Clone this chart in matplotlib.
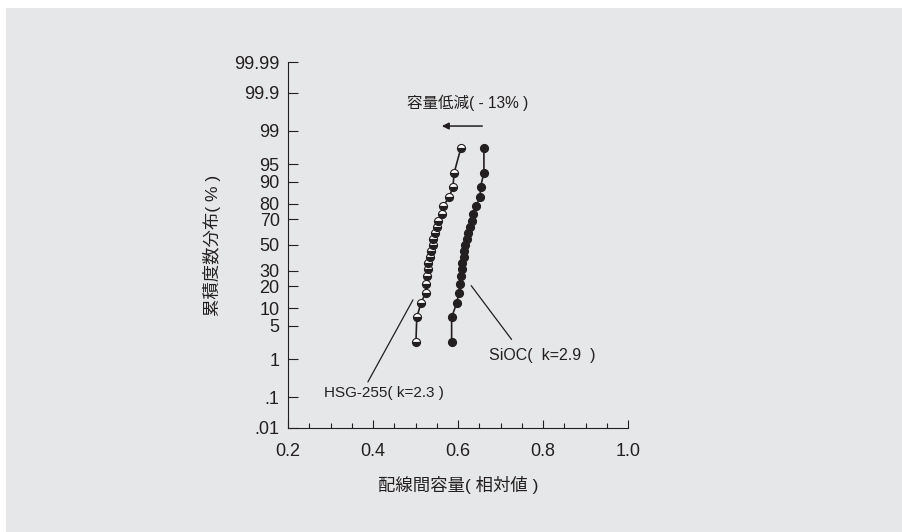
import numpy as np
import matplotlib
matplotlib.use("Agg")
import matplotlib.pyplot as plt
from matplotlib.patches import Rectangle
from statistics import NormalDist

plt.rcParams['font.family'] = ['Liberation Sans', 'Noto Sans CJK JP', 'DejaVu Sans']

# cumulative frequency (%) - same plotting positions for both samples
cum_pct = [2.4, 7.1, 11.9, 16.7, 21.4, 26.2, 31.0, 35.7, 40.5, 45.2, 50.0,
           54.8, 59.5, 64.3, 69.0, 73.8, 78.6, 83.3, 88.1, 92.9, 97.6]

# relative line-to-line capacitance
hsg_cap = [0.501, 0.503, 0.513, 0.524, 0.524, 0.526, 0.529, 0.530, 0.534, 0.536, 0.540,
           0.542, 0.546, 0.551, 0.554, 0.562, 0.565, 0.579, 0.588, 0.591, 0.607]
sioc_cap = [0.585, 0.585, 0.597, 0.602, 0.605, 0.607, 0.609, 0.610, 0.613, 0.615, 0.616,
            0.620, 0.624, 0.628, 0.632, 0.636, 0.642, 0.652, 0.653, 0.661, 0.661]

y_ticks = [0.01, 0.1, 1, 5, 10, 20, 30, 50, 70, 80, 90, 95, 99, 99.9, 99.99]
y_ticklabels = ['.01', '.1', '1', '5', '10', '20', '30', '50', '70', '80', '90',
                '95', '99', '99.9', '99.99']
x_ticks = [0.2, 0.4, 0.6, 0.8, 1.0]

ink = '#231f20'
bg = '#e6e7e8'

nd = NormalDist()
_ppf = np.vectorize(lambda p: nd.inv_cdf(p), otypes=[float])
_cdf = np.vectorize(lambda z: nd.cdf(z), otypes=[float])


def prob_fwd(p):
    p = np.clip(np.asarray(p, dtype=float) / 100.0, 1e-7, 1 - 1e-7)
    return _ppf(p)


def prob_inv(z):
    return _cdf(np.asarray(z, dtype=float)) * 100.0


fig = plt.figure(figsize=(9.02, 5.32), dpi=100, facecolor='white')
fig.add_artist(Rectangle((6 / 902, 0), 1, 1 - 8 / 532, transform=fig.transFigure,
                         facecolor=bg, edgecolor='none', zorder=-10))

ax = fig.add_axes([288 / 902, 1 - 428 / 532, 340 / 902, 366 / 532])
ax.set_facecolor('none')
ax.set_yscale('function', functions=(prob_fwd, prob_inv))
ax.set_xlim(0.2, 1.0)
ax.set_ylim(0.01, 99.99)

ax.plot(hsg_cap, cum_pct, color=ink, lw=1.2, marker='o', ms=5.8,
        mfc='white', mfcalt=ink, fillstyle='top', mec=ink, mew=0.8, zorder=3)
ax.plot(sioc_cap, cum_pct, color=ink, lw=1.2, marker='o', ms=5.8,
        mfc=ink, mec=ink, mew=0.8, zorder=3)

for s in ['top', 'right']:
    ax.spines[s].set_visible(False)
for s in ['left', 'bottom']:
    ax.spines[s].set_linewidth(0.8)
    ax.spines[s].set_color(ink)

ax.set_yticks(y_ticks)
ax.set_yticklabels(y_ticklabels)
ax.yaxis.set_minor_locator(matplotlib.ticker.NullLocator())
ax.set_xticks(x_ticks)
ax.set_xticklabels(['%.1f' % v for v in x_ticks])
ax.set_xticks(np.arange(0.25, 1.0, 0.05), minor=True)
ax.tick_params(axis='both', which='major', direction='in', width=0.8,
               colors=ink, labelsize=13)
ax.tick_params(axis='y', which='major', length=7, pad=6)
ax.tick_params(axis='x', which='major', length=6, pad=11)
ax.tick_params(axis='x', which='minor', direction='in', length=3.5, width=0.8, colors=ink)

ax.set_xlabel('配線間容量( 相対値 )', fontsize=12.5, color=ink, va='center')
ax.set_ylabel('累積度数分布( % )', fontsize=12.5, color=ink, va='center')
ax.xaxis.set_label_coords(0.5, (428 - 485) / 366)
ax.yaxis.set_label_coords((212 - 288) / 340, 0.5)

mix = ('data', 'axes fraction')
ax.annotate('容量低減( - 13% )', xy=(0.622, 0.888), xycoords=mix,
            ha='center', va='center', fontsize=11.2, color=ink)
ax.annotate('', xy=(0.562, 0.825), xytext=(0.657, 0.825), xycoords=mix, textcoords=mix,
            arrowprops=dict(arrowstyle='-|>', color=ink, lw=1.1, mutation_scale=10,
                            shrinkA=0, shrinkB=0))

ax.annotate('', xy=(0.494, 0.350), xytext=(0.388, 0.126), xycoords=mix, textcoords=mix,
            arrowprops=dict(arrowstyle='-', color=ink, lw=0.9, shrinkA=0, shrinkB=0))
ax.annotate('HSG-255( k=2.3 )', xy=(0.4259, 0.096), xycoords=mix,
            ha='center', va='center', fontsize=11, color=ink)

ax.annotate('', xy=(0.631, 0.389), xytext=(0.726, 0.242), xycoords=mix, textcoords=mix,
            arrowprops=dict(arrowstyle='-', color=ink, lw=0.9, shrinkA=0, shrinkB=0))
ax.annotate('SiOC(  k=2.9  )', xy=(0.7988, 0.197), xycoords=mix,
            ha='center', va='center', fontsize=11.5, color=ink)

fig.savefig('out.png', dpi=100, facecolor=fig.get_facecolor())
